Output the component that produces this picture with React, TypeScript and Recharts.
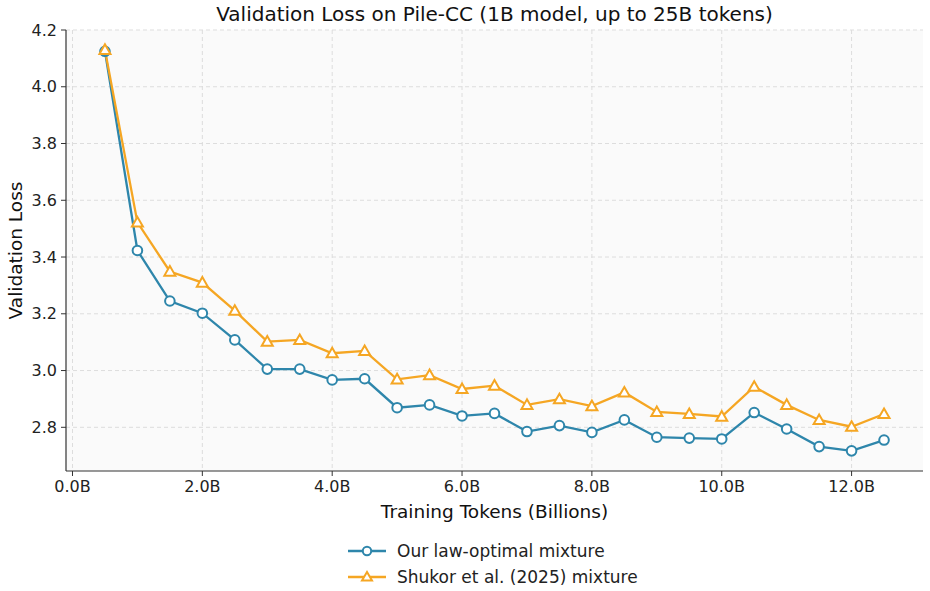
import React from 'react';
import { LineChart, Line, XAxis, YAxis, CartesianGrid, Legend } from 'recharts';

// Training tokens (billions) at each evaluation step
const tokens = [0.5, 1.0, 1.5, 2.0, 2.5, 3.0, 3.5, 4.0, 4.5, 5.0, 5.5, 6.0, 6.5, 7.0, 7.5, 8.0, 8.5, 9.0, 9.5, 10.0, 10.5, 11.0, 11.5, 12.0, 12.5];

const lawOptimal = [4.125, 3.423, 3.245, 3.202, 3.108, 3.005, 3.005, 2.967, 2.971, 2.869, 2.879, 2.840, 2.849, 2.785, 2.806, 2.782, 2.826, 2.765, 2.762, 2.759, 2.852, 2.794, 2.732, 2.717, 2.755];
const shukor = [4.130, 3.522, 3.349, 3.310, 3.211, 3.102, 3.108, 3.061, 3.069, 2.969, 2.984, 2.935, 2.947, 2.879, 2.899, 2.875, 2.923, 2.854, 2.847, 2.838, 2.943, 2.879, 2.826, 2.802, 2.847];

const xTicks = [0, 2, 4, 6, 8, 10, 12];
const yTicks = [2.8, 3.0, 3.2, 3.4, 3.6, 3.8, 4.0, 4.2];

const BLUE = '#2E86AB';
const ORANGE = '#F5A623';
const FONT = '"DejaVu Sans", sans-serif';

const data = tokens.map((t, i) => ({ t, ours: lawOptimal[i], shukor: shukor[i] }));

const CircleDot = (props: any) => {
  const { cx, cy } = props;
  if (cx == null || cy == null) return null;
  return <circle cx={cx} cy={cy} r={4.8} fill="#fff" stroke={BLUE} strokeWidth={2} />;
};

const TriangleDot = (props: any) => {
  const { cx, cy } = props;
  if (cx == null || cy == null) return null;
  const s = 5.5;
  const pts = `${cx},${cy - s} ${cx - s},${cy + s * 0.75} ${cx + s},${cy + s * 0.75}`;
  return <polygon points={pts} fill="#fff" stroke={ORANGE} strokeWidth={2} strokeLinejoin="miter" />;
};

const LegendBox = () => {
  const rows = [
    { label: 'Our law-optimal mixture', color: BLUE, marker: 'circle' },
    { label: 'Shukor et al. (2025) mixture', color: ORANGE, marker: 'triangle' },
  ];
  return (
    <div style={{ height: 70, fontFamily: FONT, fontSize: 17, color: '#222' }}>
      <div style={{ paddingTop: 17, marginLeft: 347 }}>
        {rows.map((r) => (
          <div key={r.label} style={{ display: 'flex', alignItems: 'center', height: 26 }}>
            <svg width={40} height={14} style={{ marginRight: 10 }}>
              <line x1={1} y1={7} x2={39} y2={7} stroke={r.color} strokeWidth={2.3} />
              {r.marker === 'circle' ? (
                <circle cx={20} cy={7} r={4.2} fill="#fff" stroke={r.color} strokeWidth={2} />
              ) : (
                <polygon points="20,2 15,10.5 25,10.5" fill="#fff" stroke={r.color} strokeWidth={2} />
              )}
            </svg>
            <span>{r.label}</span>
          </div>
        ))}
      </div>
    </div>
  );
};

export default function App() {
  const tickStyle = { fontFamily: FONT, fontSize: 16, fill: '#222' };
  return (
    <div style={{ position: 'relative', width: 930, height: 591, background: '#fff' }}>
      <style>{'body{margin:0}'}</style>
      <div
        style={{
          position: 'absolute',
          top: 2,
          left: 66,
          width: 857,
          textAlign: 'center',
          fontFamily: FONT,
          fontSize: 20,
          color: '#111',
          zIndex: 2,
        }}
      >
        Validation Loss on Pile-CC (1B model, up to 25B tokens)
      </div>
      <LineChart width={930} height={591} data={data} margin={{ top: 30, right: 7, left: 0, bottom: 0 }}>
        <CartesianGrid
          fill="#fafafa"
          stroke="#dddddd"
          strokeDasharray="4 3"
          horizontalValues={yTicks}
          verticalValues={xTicks}
        />
        <XAxis
          dataKey="t"
          type="number"
          domain={[-0.1, 13.1]}
          ticks={xTicks}
          tickFormatter={(v: number) => `${v.toFixed(1)}B`}
          tick={tickStyle}
          tickLine={{ stroke: '#333' }}
          tickSize={5}
          tickMargin={5}
          axisLine={{ stroke: '#333', strokeWidth: 1.2 }}
          height={50}
          allowDataOverflow
          label={{
            value: 'Training Tokens (Billions)',
            position: 'insideBottom',
            offset: 3,
            style: { fontFamily: FONT, fontSize: 18.5, fill: '#111' },
          }}
        />
        <XAxis
          xAxisId="top"
          orientation="top"
          dataKey="t"
          type="number"
          domain={[-0.1, 13.1]}
          tick={false}
          tickLine={false}
          height={0}
          axisLine={{ stroke: '#333', strokeWidth: 1.2 }}
        />
        <YAxis
          type="number"
          domain={[2.646, 4.2]}
          ticks={yTicks}
          tickFormatter={(v: number) => v.toFixed(1)}
          tick={tickStyle}
          tickLine={{ stroke: '#333' }}
          tickSize={5}
          tickMargin={4}
          axisLine={{ stroke: '#333', strokeWidth: 1.2 }}
          width={66}
          allowDataOverflow
          label={{
            value: 'Validation Loss',
            angle: -90,
            position: 'insideLeft',
            offset: 15,
            style: { textAnchor: 'middle', fontFamily: FONT, fontSize: 18.5, fill: '#111' },
          }}
        />
        <YAxis
          yAxisId="right"
          orientation="right"
          type="number"
          domain={[2.646, 4.2]}
          tick={false}
          tickLine={false}
          width={0}
          axisLine={{ stroke: '#333', strokeWidth: 1.2 }}
        />
        <Legend verticalAlign="bottom" content={<LegendBox />} />
        <Line
          type="linear"
          dataKey="ours"
          stroke={BLUE}
          strokeWidth={2.3}
          dot={<CircleDot />}
          activeDot={false}
          isAnimationActive={false}
        />
        <Line
          type="linear"
          dataKey="shukor"
          stroke={ORANGE}
          strokeWidth={2.3}
          dot={<TriangleDot />}
          activeDot={false}
          isAnimationActive={false}
        />
      </LineChart>
    </div>
  );
}
